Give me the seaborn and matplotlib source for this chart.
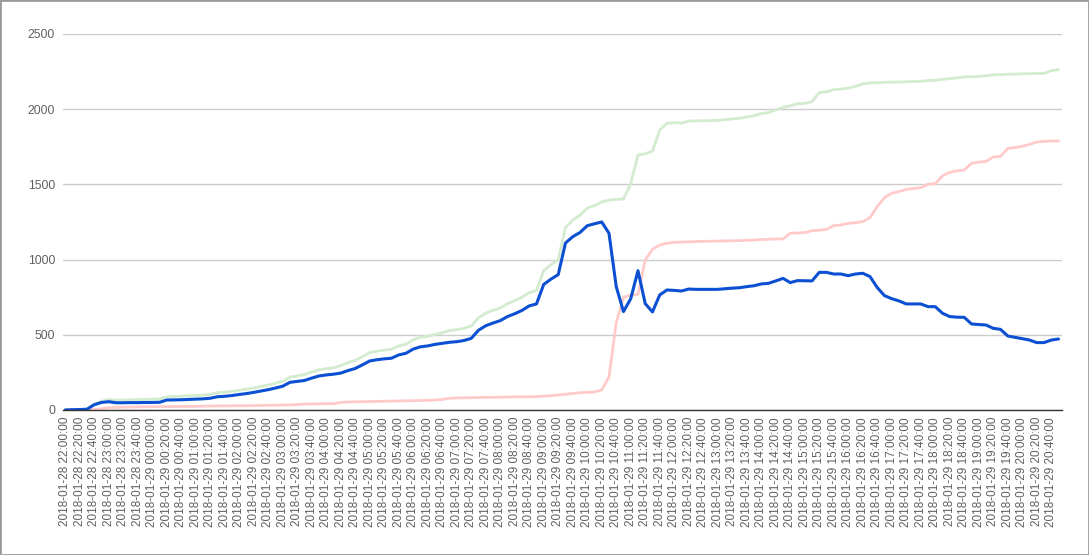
"""Courbes cumulées sur la journée du 2018-01-29"""
import numpy as np
import pandas as pd
import matplotlib
matplotlib.use("Agg")
import matplotlib.pyplot as plt
import seaborn as sns

# pas de 10 minutes, de 22:00 à 20:50
times = pd.date_range("2018-01-28 22:00:00", "2018-01-29 20:50:00", freq="10min")

open_count = [
    0, 2, 3, 5, 35, 50, 55, 48, 48, 49, 49, 50, 50, 51, 66, 67, 68, 70, 72, 74,
    78, 88, 91, 96, 103, 109, 117, 126, 135, 146, 158, 184, 190, 196, 212, 226, 233, 238, 245, 262,
    276, 300, 326, 334, 340, 344, 366, 377, 405, 420, 426, 436, 443, 450, 454, 462, 476, 530, 560, 578,
    594, 621, 640, 662, 692, 705, 835, 870, 900, 1110, 1152, 1180, 1225, 1238, 1250, 1175, 820, 654, 740, 926,
    707, 652, 765, 798, 795, 791, 804, 802, 802, 802, 802, 806, 810, 813, 820, 826, 838, 842, 858, 875,
    847, 860, 859, 858, 915, 915, 904, 904, 893, 904, 909, 887, 814, 760, 740, 725, 705, 705, 705, 687,
    687, 643, 621, 617, 616, 572, 568, 565, 543, 536, 492, 483, 474, 465, 448, 448, 465, 472,
]

closed_count = [
    0, 0, 0, 0, 3, 8, 15, 17, 18, 19, 20, 21, 22, 22, 22, 23, 23, 24, 24, 25,
    26, 27, 27, 28, 28, 29, 29, 30, 31, 32, 33, 34, 36, 40, 40, 41, 42, 42, 50, 53,
    54, 55, 56, 57, 58, 59, 60, 61, 62, 63, 64, 66, 70, 78, 80, 81, 82, 83, 84, 84,
    85, 86, 87, 88, 88, 89, 92, 95, 100, 104, 110, 115, 117, 120, 133, 220, 580, 749, 765, 769,
    997, 1068, 1097, 1108, 1115, 1116, 1118, 1120, 1121, 1122, 1123, 1124, 1125, 1126, 1128, 1130, 1133, 1135, 1137, 1137,
    1175, 1177, 1179, 1192, 1195, 1200, 1226, 1230, 1241, 1245, 1252, 1279, 1352, 1412, 1441, 1452, 1467, 1472, 1478, 1501,
    1505, 1556, 1580, 1590, 1596, 1640, 1648, 1653, 1682, 1686, 1739, 1745, 1753, 1766, 1782, 1786, 1788, 1789,
]

total_count = [
    0, 2, 3, 5, 38, 58, 70, 65, 66, 68, 69, 71, 72, 73, 88, 90, 91, 94, 96, 99,
    104, 115, 118, 124, 131, 138, 146, 156, 166, 178, 191, 218, 226, 236, 252, 267, 275, 280, 295, 315,
    330, 355, 382, 391, 398, 403, 426, 438, 467, 483, 490, 502, 513, 528, 534, 543, 558, 613, 644, 662,
    679, 707, 727, 750, 780, 794, 927, 965, 1000, 1214, 1262, 1295, 1342, 1358, 1383, 1395, 1400, 1403, 1505, 1695,
    1704, 1720, 1862, 1906, 1910, 1907, 1922, 1922, 1923, 1924, 1925, 1930, 1935, 1939, 1948, 1956, 1971, 1977, 1995, 2012,
    2022, 2037, 2038, 2050, 2110, 2115, 2130, 2134, 2140, 2152, 2168, 2174, 2176, 2178, 2180, 2181, 2182, 2184, 2186, 2190,
    2192, 2199, 2203, 2208, 2214, 2216, 2218, 2222, 2228, 2230, 2232, 2233, 2235, 2236, 2237, 2238, 2256, 2263,
]

series_order = ["total", "closed", "open"]
colors = {"total": "#d3ebcf", "closed": "#ffcaca", "open": "#0b50d2"}

df = pd.DataFrame({
    "idx": np.arange(len(times)),
    "total": total_count,
    "closed": closed_count,
    "open": open_count,
})
long_df = df.melt(id_vars="idx", var_name="serie", value_name="n")

sns.set_theme(style="white")
plt.rcParams["font.family"] = ["Liberation Sans", "DejaVu Sans"]

fig = plt.figure(figsize=(10.89, 5.55), dpi=100)
ax = fig.add_axes([0.0576, 0.2613, 0.9176, 0.6775])

sns.lineplot(data=long_df, x="idx", y="n", hue="serie", hue_order=series_order,
             palette=colors, linewidth=2, legend=False, ax=ax)
# la courbe bleue un peu plus épaisse
ax.lines[-1].set_linewidth(2.2)

ax.set_ylim(0, 2500)
ax.set_xlim(-0.34, 137.48)
ax.set_yticks([0, 500, 1000, 1500, 2000, 2500])
ax.yaxis.grid(True, color="#cccccc", linewidth=1)
ax.set_axisbelow(True)

tick_pos = np.arange(0, len(times), 2)
tick_labels = [times[i].strftime("%Y-%m-%d %H:%M:%S") for i in tick_pos]
ax.set_xticks(tick_pos)
ax.set_xticklabels(tick_labels, rotation=90, ha="center", va="top")

ax.tick_params(axis="x", length=0, pad=5, labelsize=8.5, labelcolor="#5f5f5f")
ax.tick_params(axis="y", length=0, pad=5.5, labelsize=8.7, labelcolor="#5f5f5f")
ax.set_xlabel("")
ax.set_ylabel("")

for side in ["top", "right", "left"]:
    ax.spines[side].set_visible(False)
ax.spines["bottom"].set_color("#333333")
ax.spines["bottom"].set_linewidth(1)

# cadre gris autour de l'image
fig.patches.append(plt.Rectangle((0, 0), 1, 1, transform=fig.transFigure,
                                 fill=False, edgecolor="#9a9a9a", linewidth=2))

fig.savefig("out.png", dpi=100)
